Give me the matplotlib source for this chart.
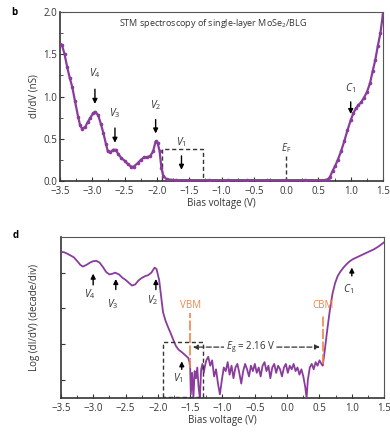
import matplotlib
matplotlib.use("Agg")
import matplotlib.pyplot as plt
from matplotlib.ticker import MultipleLocator

plt.rcParams['font.family'] = ['Open Sans', 'DejaVu Sans']
plt.rcParams['mathtext.fontset'] = 'custom'
plt.rcParams['mathtext.it'] = 'Open Sans:italic'
plt.rcParams['mathtext.rm'] = 'Open Sans'

purple = "#8a3c9c"
orange = "#f0844c"
dark = "#333333"

# panel b : dI/dV (nS)
bias_b = [-3.5, -3.47, -3.43, -3.39, -3.35, -3.31, -3.27, -3.22, -3.19, -3.16, -3.11, -3.07,
          -3.03, -2.99, -2.96, -2.91, -2.87, -2.83, -2.79, -2.76, -2.72, -2.68, -2.64, -2.6,
          -2.55, -2.5, -2.45, -2.4, -2.36, -2.3, -2.25, -2.2, -2.15, -2.1, -2.06, -2.02,
          -1.99, -1.96, -1.93, -1.9, -1.85, -1.7, -1.5, -1.2, -0.9, -0.6, -0.3, 0.0, 0.3,
          0.6, 0.65, 0.68, 0.72, 0.76, 0.8, 0.85, 0.9, 0.95, 1.0, 1.04, 1.08, 1.12, 1.16,
          1.2, 1.25, 1.3, 1.34, 1.38, 1.42, 1.46, 1.5]
didv_b = [1.62, 1.61, 1.5, 1.35, 1.22, 1.11, 0.95, 0.76, 0.66, 0.62, 0.64, 0.7,
          0.75, 0.8, 0.82, 0.78, 0.68, 0.57, 0.44, 0.35, 0.34, 0.37, 0.37, 0.32,
          0.27, 0.24, 0.2, 0.17, 0.17, 0.21, 0.25, 0.28, 0.28, 0.3, 0.35, 0.47,
          0.45, 0.36, 0.15, 0.06, 0.02, 0.01, 0.01, 0.01, 0.01, 0.01, 0.01, 0.01, 0.01,
          0.01, 0.02, 0.05, 0.12, 0.18, 0.25, 0.35, 0.47, 0.6, 0.72, 0.8, 0.86, 0.9, 0.93,
          0.98, 1.05, 1.16, 1.3, 1.43, 1.6, 1.75, 1.98]

# panel d : log(dI/dV) in decades
bias_d = [-3.5, -3.45, -3.4, -3.35, -3.3, -3.25, -3.2, -3.16, -3.1, -3.05, -3.0, -2.95,
          -2.9, -2.85, -2.8, -2.75, -2.7, -2.66, -2.6, -2.55, -2.5, -2.45, -2.4, -2.35,
          -2.3, -2.25, -2.2, -2.15, -2.1, -2.05, -2.02, -1.98, -1.95, -1.92, -1.88, -1.84,
          -1.8, -1.76, -1.72, -1.68, -1.63, -1.58, -1.53, -1.51,
          -1.5, -1.49, -1.47, -1.45, -1.43, -1.41, -1.39, -1.37, -1.35, -1.33, -1.31, -1.29,
          -1.27, -1.25, -1.22, -1.19, -1.16, -1.13, -1.1, -1.07, -1.04, -1.01, -0.98, -0.95,
          -0.92, -0.89, -0.86, -0.83, -0.8, -0.77, -0.74, -0.71, -0.68, -0.65, -0.62, -0.59,
          -0.56, -0.53, -0.5, -0.47, -0.44, -0.41, -0.38, -0.35, -0.32, -0.29, -0.26, -0.23,
          -0.2, -0.17, -0.14, -0.11, -0.08, -0.05, -0.02, 0.01, 0.04, 0.07, 0.1, 0.13,
          0.16, 0.19, 0.22, 0.25, 0.28, 0.3, 0.32, 0.35, 0.38, 0.41, 0.44, 0.47, 0.5,
          0.53, 0.55, 0.58, 0.62, 0.66, 0.7, 0.74, 0.78, 0.82, 0.87, 0.92, 0.97, 1.02,
          1.08, 1.15, 1.22, 1.28, 1.35, 1.42, 1.48, 1.5]
logdidv_d = [4.08, 4.07, 4.03, 3.98, 3.93, 3.83, 3.72, 3.67, 3.72, 3.78, 3.82, 3.83,
             3.78, 3.66, 3.52, 3.45, 3.47, 3.5, 3.45, 3.36, 3.3, 3.22, 3.14, 3.17,
             3.28, 3.35, 3.4, 3.43, 3.5, 3.64, 3.6, 3.3, 2.85, 2.4, 2.15, 1.97,
             1.8, 1.62, 1.45, 1.35, 1.28, 1.2, 1.12, 1.0,
             0.85, 0.1, 0.7, 0.0, 0.75, 0.55, 0.85, 0.3, 0.0, 0.8, 0.95, 0.7,
             0.9, 1.05, 1.15, 0.9, 1.05, 0.6, 0.8, 0.4, 0.1, 0.5, 0.85, 0.75,
             1.0, 0.65, 0.9, 0.55, 0.85, 0.95, 0.7, 0.4, 0.75, 0.95, 0.8, 0.6,
             0.9, 0.75, 0.95, 0.7, 0.85, 0.6, 0.9, 1.0, 0.75, 0.9, 0.55, 0.85,
             0.95, 0.7, 0.9, 0.8, 0.6, 0.85, 0.95, 0.7, 0.9, 0.8, 0.95, 0.75,
             0.85, 0.65, 0.8, 0.6, 0.3, 0.0, 0.5, 0.85, 0.95, 0.8, 1.0, 0.9, 1.05,
             0.95, 0.9, 1.3, 1.9, 2.45, 2.9, 3.2, 3.4, 3.52, 3.64, 3.74, 3.82, 3.88,
             3.93, 3.99, 4.05, 4.1, 4.16, 4.24, 4.32, 4.35]

xticks = [-3.5, -3.0, -2.5, -2.0, -1.5, -1.0, -0.5, 0.0, 0.5, 1.0, 1.5]
xtick_labels = ["\u22123.5", "\u22123.0", "\u22122.5", "\u22122.0", "\u22121.5", "\u22121.0",
                "\u22120.5", "0.0", "0.5", "1.0", "1.5"]

fig = plt.figure(figsize=(3.9, 4.33), dpi=100)
ax1 = fig.add_axes([0.154, 0.582, 0.828, 0.390])
ax2 = fig.add_axes([0.156, 0.081, 0.829, 0.372])


def style_axis(ax):
    ax.set_xlim(-3.5, 1.5)
    ax.set_xticks(xticks)
    ax.set_xticklabels(xtick_labels)
    ax.xaxis.set_minor_locator(MultipleLocator(0.25))
    ax.tick_params(which='both', direction='in', colors=dark, labelsize=7, pad=2)
    ax.tick_params(axis='x', which='both', pad=3.5)
    ax.tick_params(which='major', length=3, width=0.8)
    ax.tick_params(which='minor', length=2, width=0.6)
    ax.tick_params(axis='both', which='both', top=False, right=False)
    for s in ax.spines.values():
        s.set_color("#555555")
        s.set_linewidth(0.8)
    ax.spines['bottom'].set_linewidth(1.2)
    ax.spines['left'].set_linewidth(1.2)
    ax.spines['bottom'].set_color(dark)
    ax.spines['left'].set_color(dark)
    ax.set_xlabel("Bias voltage (V)", fontsize=7, color=dark, labelpad=1)


# ---- panel b ----
ax1.plot(bias_b, didv_b, color=purple, lw=1.6, marker='o', ms=1.6, markevery=1, zorder=3)
style_axis(ax1)
ax1.set_ylim(0, 2.0)
ax1.set_yticks([0.0, 0.5, 1.0, 1.5, 2.0])
ax1.yaxis.set_minor_locator(MultipleLocator(0.25))
ax1.set_ylabel("dI/dV (nS)", fontsize=7, color=dark, labelpad=3)
ax1.text(-2.58, 1.87, "STM spectroscopy of single-layer MoSe$_2$/BLG", fontsize=6.5, color=dark,
         va='center', ha='left')

arrow_kw = dict(arrowstyle='-|>', color='black', lw=1.0, mutation_scale=7)
b_arrows = [(-2.96, 1.12, 0.88, "$V_4$", 1.28),
            (-2.65, 0.66, 0.42, "$V_3$", 0.80),
            (-2.02, 0.76, 0.53, "$V_2$", 0.90),
            (-1.62, 0.33, 0.10, "$V_1$", 0.46),
            (1.0, 0.97, 0.76, "$C_1$", 1.10)]
for x, y0, y1, lab, ylab in b_arrows:
    ax1.annotate("", xy=(x, y1), xytext=(x, y0), arrowprops=arrow_kw)
    ax1.text(x, ylab, lab, fontsize=7.5, ha='center', va='center', color=dark)

ax1.plot([0.0, 0.0], [0.0, 0.3], ls=(0, (3, 2)), color=dark, lw=1.0)
ax1.text(0.0, 0.39, "$E_\\mathrm{F}$", fontsize=7, ha='center', va='center', color=dark)
ax1.plot([-1.92, -1.92, -1.29, -1.29], [0.0, 0.38, 0.38, 0.0], ls=(0, (3, 2)), color=dark, lw=1.0)
ax1.text(-0.15, 0.995, "b", transform=ax1.transAxes, fontsize=7, fontweight='bold', va='center')

# ---- panel d ----
ax2.plot(bias_d, logdidv_d, color=purple, lw=1.3, zorder=3)
style_axis(ax2)
ax2.set_ylim(0, 4.5)
ax2.set_yticks([0.5, 1.5, 2.5, 3.5])
ax2.set_yticklabels([])
ax2.set_ylabel("Log (dI/dV) (decade/div)", fontsize=7, color=dark, labelpad=13)

d_arrows = [(-3.0, 3.08, 3.55, "$V_4$", 2.9),
            (-2.65, 2.95, 3.4, "$V_3$", 2.62),
            (-2.03, 2.95, 3.4, "$V_2$", 2.72),
            (-1.63, 0.72, 1.1, "$V_1$", 0.56),
            (1.0, 3.33, 3.72, "$C_1$", 3.03)]
for x, y0, y1, lab, ylab in d_arrows:
    ax2.annotate("", xy=(x, y1), xytext=(x, y0), arrowprops=arrow_kw)
    ax2.text(x - 0.05, ylab, lab, fontsize=7.5, ha='center', va='center', color=dark)

ax2.plot([-1.92, -1.92, -1.3, -1.3, -1.92], [0.03, 1.56, 1.56, 0.03, 0.03], ls=(0, (3, 2)),
         color=dark, lw=1.0, zorder=4)

ax2.plot([-1.5, -1.5], [0.85, 2.36], color=orange, lw=1.2, ls=(0, (6, 1.5)), zorder=5)
ax2.plot([0.55, 0.55], [0.95, 2.3], color=orange, lw=1.2, ls=(0, (6, 1.5)), zorder=5)
ax2.text(-1.5, 2.58, "VBM", color=orange, fontsize=7, ha='center', va='center')
ax2.text(0.55, 2.58, "CBM", color=orange, fontsize=7, ha='center', va='center')

ax2.annotate("", xy=(-1.5, 1.42), xytext=(-0.55, 1.42),
             arrowprops=dict(arrowstyle='-|>', color=dark, lw=0.9, ls=(0, (4, 2)), mutation_scale=7))
ax2.annotate("", xy=(0.55, 1.42), xytext=(-0.55, 1.42),
             arrowprops=dict(arrowstyle='-|>', color=dark, lw=0.9, ls=(0, (4, 2)), mutation_scale=7))
ax2.text(-0.57, 1.42, "$E_\\mathrm{g}$ = 2.16 V", fontsize=7, ha='center', va='center', color=dark,
         bbox=dict(facecolor='white', edgecolor='none', pad=1.0), zorder=6)
ax2.text(-0.15, 1.01, "d", transform=ax2.transAxes, fontsize=7, fontweight='bold', va='center')

fig.savefig("out.png", dpi=100)
